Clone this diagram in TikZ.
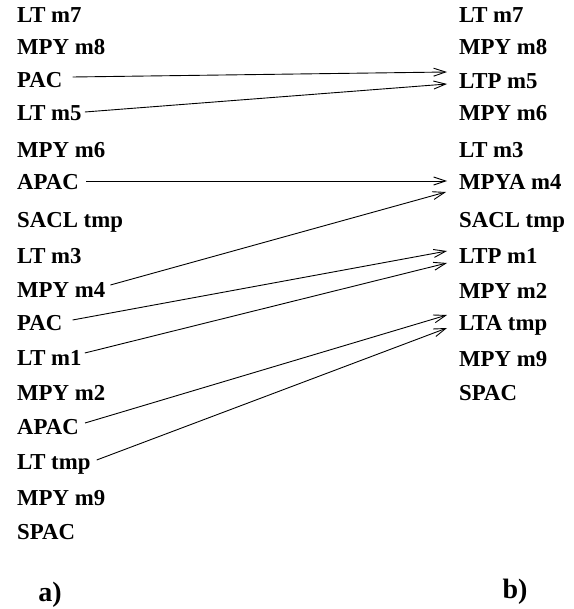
\documentclass[tikz,border=0pt]{standalone}
\usepackage{fontspec}
\setmainfont{Liberation Serif}[BoldFont={Liberation Serif Bold}]
\usetikzlibrary{arrows.meta}
\begin{document}
\begin{tikzpicture}[x=1pt,y=-1pt,
  instr/.style={anchor=west,inner sep=0pt,text height=15.1pt,text depth=0pt,
    font=\fontsize{22.8}{25}\selectfont\bfseries},
  lab/.style={anchor=base,inner sep=0pt,font=\fontsize{28}{30}\selectfont\bfseries},
  link/.style={line width=0.9pt,-{Straight Barb[length=12pt,width=8pt,line width=0.9pt]}}]
\useasboundingbox (0,0) rectangle (573,609);
% left column
\node[instr] (L0)  at (17,15)  {LT m7};
\node[instr] (L1)  at (17,47)  {MPY m8};
\node[instr] (L2)  at (17,80)  {PAC};
\node[instr] (L3)  at (17,113) {LT m5};
\node[instr] (L4)  at (17,150) {MPY m6};
\node[instr] (L5)  at (17,182) {APAC};
\node[instr] (L6)  at (17,220) {SACL tmp};
\node[instr] (L7)  at (17,256) {LT m3};
\node[instr] (L8)  at (17,290) {MPY m4};
\node[instr] (L9)  at (17,323) {PAC};
\node[instr] (L10) at (17,358) {LT m1};
\node[instr] (L11) at (17,393) {MPY m2};
\node[instr] (L12) at (17,427) {APAC};
\node[instr] (L13) at (17,462) {LT tmp};
\node[instr] (L14) at (17,498) {MPY m9};
\node[instr] (L15) at (17,532) {SPAC};
% right column
\node[instr] (R0)  at (459,15)  {LT m7};
\node[instr] (R1)  at (459,47)  {MPY m8};
\node[instr] (R2)  at (459,81)  {LTP m5};
\node[instr] (R3)  at (459,113) {MPY m6};
\node[instr] (R4)  at (459,150) {LT m3};
\node[instr] (R5)  at (459,182) {MPYA m4};
\node[instr] (R6)  at (459,220) {SACL tmp};
\node[instr] (R7)  at (459,256) {LTP m1};
\node[instr] (R8)  at (459,291) {MPY m2};
\node[instr] (R9)  at (459,323) {LTA tmp};
\node[instr] (R10) at (459,359) {MPY m9};
\node[instr] (R11) at (459,393) {SPAC};
% labels
\node[lab] (la) at (50,601) {a)};
\node[lab] (lb) at (515,598) {b)};
% connectors (yshift is in page direction: positive = up)
\draw[link] ([xshift=10pt,yshift=3pt]L2.east)  -- ([xshift=-12pt,yshift=9pt]R2.west);
\draw[link] ([xshift=3pt,yshift=1pt]L3.east)   -- ([xshift=-12pt,yshift=-3pt]R2.west);
\draw[link] ([xshift=7pt,yshift=1pt]L5.east)   -- ([xshift=-12pt,yshift=1pt]R5.west);
\draw[link] ([xshift=5pt,yshift=5pt]L8.east)   -- ([xshift=-13pt,yshift=-10pt]R5.west);
\draw[link] ([xshift=10pt,yshift=3pt]L9.east)  -- ([xshift=-12pt,yshift=5pt]R7.west);
\draw[link] ([xshift=3pt,yshift=5pt]L10.east)  -- ([xshift=-12pt,yshift=-7pt]R7.west);
\draw[link] ([xshift=6pt,yshift=4pt]L12.east)  -- ([xshift=-12pt,yshift=8pt]R9.west);
\draw[link] ([xshift=6pt,yshift=2pt]L13.east)  -- ([xshift=-12pt,yshift=-5pt]R9.west);
\end{tikzpicture}
\end{document}
